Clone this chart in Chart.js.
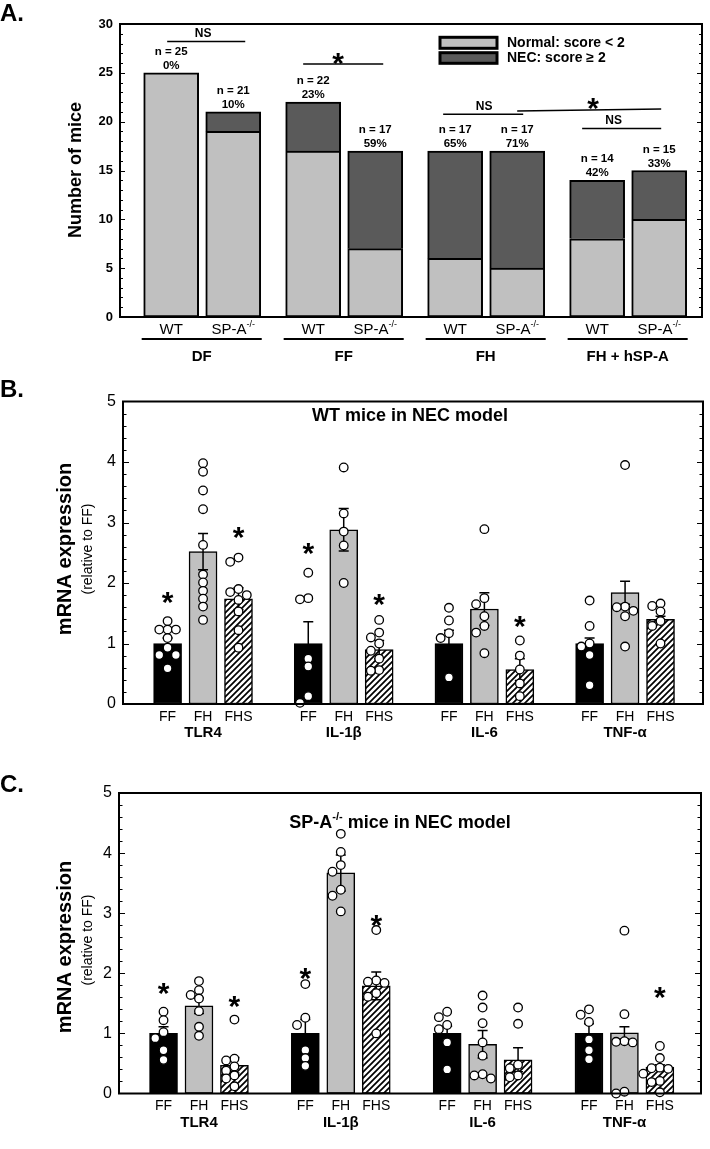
<!DOCTYPE html>
<html><head><meta charset="utf-8">
<script src="https://cdn.jsdelivr.net/npm/chart.js@4.4.0/dist/chart.umd.min.js"></script>
<style>
html,body{margin:0;padding:0;background:#fff}
body{width:710px;height:1149px;position:relative;overflow:hidden}
canvas{position:absolute;left:0}
</style></head><body>
<canvas id="cA" width="710" height="370" style="top:0;width:710px;height:370px"></canvas>
<canvas id="cB" width="710" height="375" style="top:370px;width:710px;height:375px"></canvas>
<canvas id="cC" width="710" height="404" style="top:745px;width:710px;height:404px"></canvas>
<script>
// ===================== DATA =====================
// Panel A
const groupsA      = ['DF', 'FF', 'FH', 'FH + hSP-A'];
const genotypeA    = ['WT', 'SP-A'];
const genotypeSupA = ['', '-/-'];
const seriesA      = ['Normal: score < 2', 'NEC: score \u2265 2'];
const normalA      = [25, 19, 17, 7, 6, 5, 8, 10];
const necA         = [0, 2, 5, 10, 11, 12, 6, 5];
const necPctA      = ['0%', '10%', '23%', '59%', '65%', '71%', '42%', '33%'];
const yTicksA      = [0, 5, 10, 15, 20, 25, 30];
const sigLabelsA   = ['NS', '*', 'NS', '*', 'NS'];
const sigPairsA    = [[0, 1], [2, 3], [4, 5], [5, 7], [6, 7]];

// Panels B and C
const genes    = ['TLR4', 'IL-1\u03B2', 'IL-6', 'TNF-\u03B1'];
const diets    = ['FF', 'FH', 'FHS'];
const yTicksBC = [0, 1, 2, 3, 4, 5];

// Panel B: WT mice (rows = genes, cols = FF, FH, FHS)
const meanB = [[1.00, 2.52, 1.74], [1.00, 2.88, 0.90], [1.00, 1.57, 0.57], [1.00, 1.84, 1.40]];
const semB  = [[0.09, 0.30, 0.18], [0.36, 0.35, 0.15], [0.22, 0.27, 0.18], [0.09, 0.19, 0.05]];
const pointsB = [
  [[1.37, 1.23, 1.23, 1.23, 1.09, 0.93, 0.81, 0.81, 0.59],
   [3.98, 3.84, 3.53, 3.22, 2.63, 2.14, 2.01, 1.87, 1.74, 1.61, 1.39],
   [2.42, 2.35, 1.90, 1.85, 1.80, 1.72, 1.53, 1.22, 0.93]],
  [[2.17, 1.75, 1.73, 0.75, 0.62, 0.13, 0.02],
   [3.91, 3.15, 2.85, 2.62, 2.00],
   [1.39, 1.18, 1.10, 1.00, 0.88, 0.75, 0.56, 0.55]],
  [[1.59, 1.38, 1.17, 1.09, 0.44],
   [2.89, 1.75, 1.65, 1.45, 1.29, 1.18, 0.84],
   [1.05, 0.80, 0.57, 0.34, 0.13]],
  [[1.71, 1.29, 1.00, 0.95, 0.81, 0.31],
   [3.95, 1.61, 1.60, 1.54, 1.45, 0.95],
   [1.66, 1.62, 1.53, 1.37, 1.29, 1.00]]
];
const starsB = [[1.80, null, 2.87], [2.60, null, 1.76], [null, null, 1.39], [null, null, null]];

// Panel C: SP-A-/- mice
const meanC = [[1.00, 1.46, 0.47], [1.00, 3.67, 1.79], [1.00, 0.82, 0.56], [1.00, 1.01, 0.44]];
const semC  = [[0.11, 0.13, 0.13], [0.23, 0.30, 0.23], [0.12, 0.23, 0.20], [0.16, 0.10, 0.04]];
const pointsC = [
  [[1.36, 1.22, 1.02, 0.92, 0.72, 0.56],
   [1.87, 1.72, 1.64, 1.58, 1.37, 1.11, 0.96],
   [1.23, 0.58, 0.55, 0.45, 0.38, 0.30, 0.25, 0.12]],
  [[1.82, 1.26, 1.14, 0.72, 0.59, 0.46],
   [4.32, 4.02, 3.80, 3.69, 3.39, 3.29, 3.03],
   [2.72, 1.88, 1.86, 1.84, 1.67, 1.61, 1.00]],
  [[1.36, 1.27, 1.14, 1.07, 0.85, 0.40],
   [1.63, 1.43, 1.17, 0.85, 0.63, 0.32, 0.30, 0.25],
   [1.43, 1.16, 0.48, 0.42, 0.30, 0.27]],
  [[1.40, 1.31, 1.19, 0.90, 0.72, 0.57],
   [2.71, 1.32, 0.87, 0.86, 0.85, 0.03, 0.00],
   [0.79, 0.59, 0.43, 0.42, 0.41, 0.33, 0.21, 0.19, 0.02]]
];
const starsC = [[1.78, null, 1.57], [2.03, null, 2.91], [null, null, null], [null, null, 1.72]];

// ===================== LAYOUT / STYLE =====================
const FONT = '"Liberation Sans", Arial, Helvetica, sans-serif';
const font = (s, b) => (b ? 'bold ' : '') + s + 'px ' + FONT;
const LIGHT = '#c0c0c0', DARK = '#5a5a5a';
const STAR = 30;

const LA = {left: 120, right: 702, top: 24, bottom: 317, H: 370, xmin: -0.579, xmax: 3.52, pair: 0.437, bar: 55};
const sigLayoutA = [
  {yl: 28.2, yr: 28.2, dl: -4, dr: 12, lx: -3},
  {yl: 25.9, yr: 25.9, dl: -10, dr: 8, lx: -5},
  {yl: 20.75, yr: 20.75, dl: -12, dr: 6, lx: 1},
  {yl: 21.1, yr: 21.3, dl: 0, dr: 2, lx: 4},
  {yl: 19.3, yr: 19.3, dl: -15, dr: 2, lx: -8}
];
const xA = i => Math.floor(i / 2) + ((i % 2) - 0.5) * LA.pair;

function txt(ctx, s, x, y, f, align, base) {
  ctx.font = f; ctx.textAlign = align || 'center'; ctx.textBaseline = base || 'middle';
  ctx.fillStyle = '#000'; ctx.fillText(s, x, y);
}
function star(ctx, x, y, size) { txt(ctx, '*', x, y + 0.55 * size, font(size, true), 'center', 'alphabetic'); }
function richText(ctx, parts, cx, y) { // parts: [text, size, bold, dy]
  let w = 0;
  parts.forEach(p => { ctx.font = font(p[1], p[2]); w += ctx.measureText(p[0]).width; });
  let x = cx - w / 2;
  parts.forEach(p => { txt(ctx, p[0], x, y + p[3], font(p[1], p[2]), 'left', 'middle'); ctx.font = font(p[1], p[2]); x += ctx.measureText(p[0]).width; });
}
function vText(ctx, s, x, y, f) {
  ctx.save(); ctx.translate(x, y); ctx.rotate(-Math.PI / 2); txt(ctx, s, 0, 0, f); ctx.restore();
}
function frameAndTicks(ctx, ca, y, max, minorStep, majorEvery, majLen, minLen) {
  ctx.strokeStyle = '#000'; ctx.lineWidth = 2;
  ctx.strokeRect(ca.left, ca.top, ca.right - ca.left, ca.bottom - ca.top);
  ctx.lineWidth = 1.2; ctx.beginPath();
  const n = Math.round(max / minorStep);
  for (let k = 1; k < n; k++) {
    const py = Math.round(y.getPixelForValue(k * minorStep)) + 0.5;
    const len = (k % majorEvery === 0) ? majLen : minLen;
    ctx.moveTo(ca.left, py); ctx.lineTo(ca.left + len, py);
    ctx.moveTo(ca.right - len, py); ctx.lineTo(ca.right, py);
  }
  ctx.stroke();
}

// ===================== PANEL A =====================
const plugA = {
  id: 'plugA',
  afterDraw(chart) {
    const {ctx, chartArea: ca, scales: {x, y}} = chart;
    ctx.save();
    frameAndTicks(ctx, ca, y, 30, 1, 5, 5, 3);
    for (let i = 0; i < normalA.length; i++) {
      const px = x.getPixelForValue(xA(i));
      const g = i % 2;
      if (genotypeSupA[g]) richText(ctx, [[genotypeA[g], 15, false, 0], [genotypeSupA[g], 9, false, -5]], px, ca.bottom + 13);
      else txt(ctx, genotypeA[g], px, ca.bottom + 13, font(15, false));
      const total = normalA[i] + necA[i];
      const top = y.getPixelForValue(total);
      txt(ctx, 'n = ' + total, px, top - 21, font(11.5, true));
      txt(ctx, necPctA[i], px, top - 7, font(11.5, true));
    }
    ctx.strokeStyle = '#000'; ctx.lineWidth = 2;
    groupsA.forEach((gname, g) => {
      const l = x.getPixelForValue(xA(2 * g)) - LA.bar / 2 - 2;
      const r = x.getPixelForValue(xA(2 * g + 1)) + LA.bar / 2 + 1;
      ctx.beginPath(); ctx.moveTo(l, ca.bottom + 22); ctx.lineTo(r, ca.bottom + 22); ctx.stroke();
      txt(ctx, gname, (l + r) / 2, ca.bottom + 40, font(15, true));
    });
    ctx.lineWidth = 1.5;
    sigPairsA.forEach((pr, k) => {
      const L = sigLayoutA[k];
      const x1 = x.getPixelForValue(xA(pr[0])) + L.dl, x2 = x.getPixelForValue(xA(pr[1])) + L.dr;
      const y1 = y.getPixelForValue(L.yl), y2 = y.getPixelForValue(L.yr);
      ctx.beginPath(); ctx.moveTo(x1, y1); ctx.lineTo(x2, y2); ctx.stroke();
      const cx = (x1 + x2) / 2 + L.lx, cy = Math.min(y1, y2) - 7.5;
      if (sigLabelsA[k] === '*') star(ctx, cx, cy, STAR); else txt(ctx, sigLabelsA[k], cx, cy, font(12, true));
    });
    const cols = [LIGHT, DARK];
    [[37.3, 48.3], [52.7, 63.3]].forEach((r, k) => {
      ctx.fillStyle = cols[k]; ctx.fillRect(440, r[0], 57, r[1] - r[0]);
      ctx.strokeStyle = '#000'; ctx.lineWidth = 3; ctx.strokeRect(440, r[0], 57, r[1] - r[0]);
      txt(ctx, seriesA[k], 507, (r[0] + r[1]) / 2, font(14, true), 'left');
    });
    vText(ctx, 'Number of mice', 76, 170, font(18, true));
    txt(ctx, 'A.', 0, 21, font(24, true), 'left', 'alphabetic');
    ctx.restore();
  }
};

new Chart(document.getElementById('cA'), {
  type: 'bar',
  data: {
    datasets: [
      {label: seriesA[0], data: normalA.map((v, i) => ({x: xA(i), y: v})), backgroundColor: LIGHT, borderSkipped: false},
      {label: seriesA[1], data: necA.map((v, i) => ({x: xA(i), y: v})), backgroundColor: DARK, borderSkipped: 'bottom'}
    ].map(d => Object.assign(d, {borderColor: '#000', borderWidth: 2, barThickness: LA.bar, stack: 's', grouped: false}))
  },
  options: {
    responsive: false, animation: false, devicePixelRatio: 1,
    layout: {padding: {left: 0, top: LA.top, right: 710 - LA.right, bottom: LA.H - LA.bottom}},
    scales: {
      x: {type: 'linear', display: false, min: LA.xmin, max: LA.xmax, offset: false},
      y: {stacked: true, min: 0, max: 30,
          afterBuildTicks: s => { s.ticks = yTicksA.map(v => ({value: v})); },
          ticks: {font: {family: FONT, size: 13, weight: 'bold'}, color: '#000', padding: 7},
          grid: {display: false, drawTicks: false}, border: {display: false},
          afterFit: s => { s.width = LA.left; }}
    },
    plugins: {legend: {display: false}, tooltip: {enabled: false}}
  },
  plugins: [plugA]
});

// ===================== PANELS B / C =====================
function hatch(canvas) {
  const t = document.createElement('canvas'); t.width = 6; t.height = 6;
  const g = t.getContext('2d');
  g.fillStyle = '#fff'; g.fillRect(0, 0, 6, 6);
  g.strokeStyle = '#000'; g.lineWidth = 1.7; g.beginPath();
  g.moveTo(-3, 3); g.lineTo(3, -3); g.moveTo(-1, 7); g.lineTo(7, -1); g.moveTo(3, 9); g.lineTo(9, 3);
  g.stroke();
  return canvas.getContext('2d').createPattern(t, 'repeat');
}
function swarm(vals, pxY, pxX) {
  const step = 8.3, thr = 7.6, placed = [], res = new Array(vals.length);
  const order = vals.map((v, i) => i).sort((a, b) => vals[b] - vals[a]);
  for (const i of order) {
    const yp = vals[i] * pxY;
    let off = 0;
    for (const c of [0, -1, 1, -2, 2, -3, 3]) {
      const xp = c * step;
      if (placed.every(p => Math.hypot(p.x - xp, p.y - yp) >= thr)) { off = xp; break; }
    }
    placed.push({x: off, y: yp});
    res[i] = off / pxX;
  }
  return res;
}

function makePanel(P) {
  const canvas = document.getElementById(P.id);
  const fills = ['#000', LIGHT, hatch(canvas)];
  const xPos = (gi, di) => gi + (di - 1) * P.step;
  const pxY = (P.bottom - P.top) / 5, pxX = (P.right - P.left) / (P.xmax - P.xmin);
  const pts = [];
  P.points.forEach((row, gi) => row.forEach((vals, di) => {
    const jit = swarm(vals, pxY, pxX);
    vals.forEach((v, k) => pts.push({x: xPos(gi, di) + jit[k], y: v}));
  }));
  const datasets = diets.map((d, di) => ({
    type: 'bar', label: d,
    data: genes.map((g, gi) => ({x: xPos(gi, di), y: P.means[gi][di]})),
    backgroundColor: fills[di], borderColor: '#000', borderWidth: 1.5, borderSkipped: false,
    barThickness: 28, grouped: false, order: 2
  }));
  datasets.push({type: 'scatter', label: 'individual', data: pts, pointRadius: 4.3, pointHoverRadius: 4.3,
    pointBackgroundColor: '#fff', pointBorderColor: '#000', pointBorderWidth: 1.3, clip: false, order: 1});

  const plug = {
    id: 'plug' + P.id,
    beforeDatasetDraw(chart, args) {
      if (chart.data.datasets[args.index].type !== 'scatter') return;
      const {ctx, scales: {x, y}} = chart;
      ctx.save(); ctx.strokeStyle = '#000'; ctx.lineWidth = 1.5; ctx.beginPath();
      P.means.forEach((row, gi) => row.forEach((m, di) => {
        const px = x.getPixelForValue(xPos(gi, di));
        const yt = y.getPixelForValue(m + P.sems[gi][di]), yb = y.getPixelForValue(m - P.sems[gi][di]);
        ctx.moveTo(px, yb); ctx.lineTo(px, yt);
        ctx.moveTo(px - 5, yt); ctx.lineTo(px + 5, yt);
        ctx.moveTo(px - 5, yb); ctx.lineTo(px + 5, yb);
      }));
      ctx.stroke(); ctx.restore();
    },
    afterDraw(chart) {
      const {ctx, chartArea: ca, scales: {x, y}} = chart;
      ctx.save();
      frameAndTicks(ctx, ca, y, 5, 0.2, 5, 6, 3.5);
      genes.forEach((g, gi) => {
        diets.forEach((d, di) => {
          const px = x.getPixelForValue(xPos(gi, di));
          txt(ctx, d, px, ca.bottom + 13, font(14, false));
          const s = P.stars[gi][di];
          if (s !== null) star(ctx, px, y.getPixelForValue(s), STAR);
        });
        txt(ctx, g, x.getPixelForValue(xPos(gi, 1)), ca.bottom + 29, font(15, true));
      });
      richText(ctx, P.title, P.titleX, P.titleY);
      vText(ctx, 'mRNA expression', 65, P.yTitleY, font(20, true));
      vText(ctx, '(relative to FF)', 88, P.ySubY, font(14, false));
      txt(ctx, P.label, 0, P.labelY, font(24, true), 'left', 'alphabetic');
      ctx.restore();
    }
  };

  new Chart(canvas, {
    type: 'bar',
    data: {datasets},
    options: {
      responsive: false, animation: false, devicePixelRatio: 1,
      layout: {padding: {left: 0, top: P.top, right: 710 - P.right, bottom: P.H - P.bottom}},
      scales: {
        x: {type: 'linear', display: false, min: P.xmin, max: P.xmax, offset: false},
        y: {min: 0, max: 5,
            afterBuildTicks: s => { s.ticks = yTicksBC.map(v => ({value: v})); },
            ticks: {font: {family: FONT, size: 16}, color: '#000', padding: 7},
            grid: {display: false, drawTicks: false}, border: {display: false},
            afterFit: s => { s.width = P.left; }}
      },
      plugins: {legend: {display: false}, tooltip: {enabled: false}}
    },
    plugins: [plug]
  });
}

makePanel({id: 'cB', H: 375, left: 123, right: 703, top: 31.5, bottom: 334, xmin: -0.569, xmax: 3.554, step: 0.252,
  means: meanB, sems: semB, points: pointsB, stars: starsB,
  title: [['WT mice in NEC model', 18, true, 0]], titleX: 410, titleY: 46,
  yTitleY: 179, ySubY: 179, label: 'B.', labelY: 27});
makePanel({id: 'cC', H: 404, left: 119, right: 701, top: 48, bottom: 348.5, xmin: -0.564, xmax: 3.540, step: 0.25,
  means: meanC, sems: semC, points: pointsC, stars: starsC,
  title: [['SP-A', 18, true, 0], ['-/-', 11, true, -6], [' mice in NEC model', 18, true, 0]], titleX: 400, titleY: 78,
  yTitleY: 202, ySubY: 195, label: 'C.', labelY: 47});
</script>
</body></html>
